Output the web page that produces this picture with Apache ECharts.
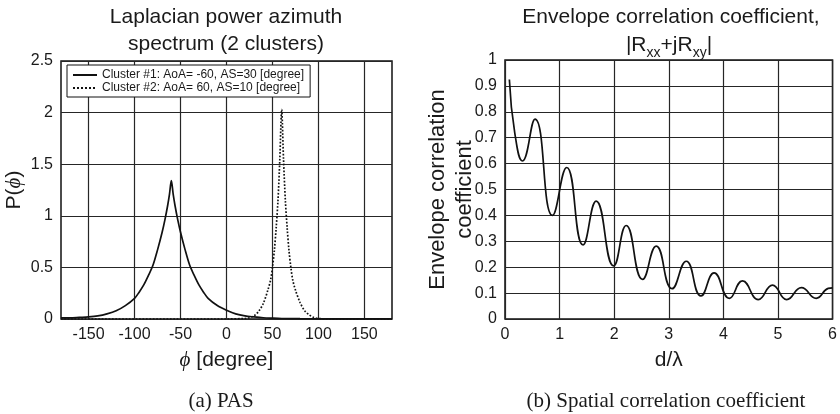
<!DOCTYPE html>
<html><head><meta charset="utf-8">
<script src="https://cdn.jsdelivr.net/npm/echarts@6/dist/echarts.min.js"></script>
<style>html,body{margin:0;padding:0;background:#fff}#c{width:840px;height:414px}</style>
</head><body><div id="c"></div>
<script>
// ---- (a) PAS data ----
const pasTicks = [-150, -100, -50, 0, 50, 100, 150];
const phiCluster1 = [-180,-170,-160,-150,-140,-130,-120,-110,-100,-95,-90,-85,-80,-75,-70,-67,-64,-62,-60,-58,-56,-53,-50,-45,-40,-35,-30,-25,-20,-10,0,10,20,30,40,50,60,80,100,120,140,160,180];
const pCluster1   = [0.01,0.01,0.015,0.02,0.03,0.05,0.08,0.13,0.20,0.26,0.33,0.42,0.52,0.67,0.84,0.96,1.10,1.21,1.34,1.21,1.10,0.96,0.84,0.67,0.52,0.42,0.33,0.26,0.20,0.13,0.085,0.05,0.03,0.02,0.012,0.008,0.005,0.003,0.002,0.001,0.001,0.001,0.001];
const phiCluster2 = [-180,0,20,25,30,35,40,45,48,50,52,54,56,58,60,62,64,66,68,70,72,75,80,85,90,95,100,110,180];
const pCluster2   = [0,0,0.005,0.012,0.03,0.075,0.15,0.28,0.38,0.50,0.66,0.88,1.15,1.55,2.03,1.55,1.15,0.88,0.66,0.50,0.38,0.28,0.16,0.08,0.04,0.015,0.005,0,0];
const legendNames = ['Cluster #1: AoA= -60, AS=30 [degree]', 'Cluster #2: AoA= 60, AS=10 [degree]'];

// ---- (b) spatial correlation data ----
const dOverLambda = [0.08,0.18,0.32,0.55,0.87,1.13,1.43,1.67,1.99,2.22,2.52,2.77,3.06,3.32,3.59,3.83,4.11,4.35,4.64,4.90,5.16,5.43,5.70,5.92,6.0];
const envCorr     = [0.925,0.717,0.61,0.772,0.40,0.585,0.286,0.455,0.205,0.361,0.153,0.281,0.117,0.223,0.089,0.178,0.08,0.147,0.075,0.131,0.075,0.121,0.08,0.118,0.12];

const FONT = "'Liberation Sans', Arial, Helvetica, sans-serif";
const SERIF = "'Liberation Serif', 'Times New Roman', serif";
const INK = '#1a1a1a';
const GRIDC = '#262626';

function zip(a, b) { return a.map((x, i) => [x, b[i]]); }

const chart = echarts.init(document.getElementById('c'), null, {renderer: 'canvas'});
const axisCommonY = {
  type: 'value', axisLine: {show: false}, axisTick: {show: false},
  axisLabel: {fontSize: 16, color: INK, margin: 8, fontFamily: FONT},
  splitLine: {show: true, lineStyle: {color: GRIDC, width: 1.2}},
  nameLocation: 'middle', nameRotate: 90, nameMoveOverlap: false
};
const option = {
  animation: false,
  backgroundColor: '#fff',
  textStyle: {fontFamily: FONT, color: INK},
  grid: [
    {left: 61, top: 61, width: 331, height: 258, show: true, borderColor: '#111', borderWidth: 1.5, backgroundColor: 'rgba(0,0,0,0)', containLabel: false},
    {left: 505, top: 60, width: 329, height: 259, show: true, borderColor: '#111', borderWidth: 1.5, backgroundColor: 'rgba(0,0,0,0)', containLabel: false}
  ],
  xAxis: [
    {gridIndex: 0, type: 'value', min: -180, max: 180, nameMoveOverlap: false,
     axisLine: {show: false}, axisTick: {show: false, customValues: pasTicks},
     axisLabel: {customValues: pasTicks, fontSize: 16, color: INK, margin: 8, fontFamily: FONT},
     splitLine: {show: true, lineStyle: {color: GRIDC, width: 1.2}},
     name: '{i|\u03d5} [degree]', nameLocation: 'middle', nameGap: 31,
     nameTextStyle: {fontSize: 21, color: INK, fontFamily: FONT, rich: {i: {fontSize: 21, fontStyle: 'italic', fontFamily: SERIF, color: INK}}}},
    {gridIndex: 1, type: 'value', min: 0, max: 6, interval: 1, nameMoveOverlap: false,
     axisLine: {show: false}, axisTick: {show: false},
     axisLabel: {fontSize: 16, color: INK, margin: 8, fontFamily: FONT},
     splitLine: {show: true, lineStyle: {color: GRIDC, width: 1.2}},
     name: 'd/\u03bb', nameLocation: 'middle', nameGap: 31,
     nameTextStyle: {fontSize: 21, color: INK, fontFamily: FONT}}
  ],
  yAxis: [
    Object.assign({}, axisCommonY, {gridIndex: 0, min: 0, max: 2.5, interval: 0.5,
      name: 'P({i|\u03d5})', nameGap: 36,
      nameTextStyle: {fontSize: 21, color: INK, fontFamily: FONT, rich: {i: {fontSize: 21, fontStyle: 'italic', fontFamily: SERIF, color: INK}}}}),
    Object.assign({}, axisCommonY, {gridIndex: 1, min: 0, max: 1, interval: 0.1,
      name: 'Envelope correlation\ncoefficient', nameGap: 27,
      nameTextStyle: {fontSize: 22, lineHeight: 27, color: INK, fontFamily: FONT}})
  ],
  legend: {
    left: 67, top: 65, orient: 'vertical', itemGap: 1, itemWidth: 24, itemHeight: 10,
    padding: [4, 6, 3, 5], backgroundColor: '#fff', borderColor: '#111', borderWidth: 1,
    textStyle: {fontSize: 12, color: INK, fontFamily: FONT},
    itemStyle: {color: 'rgba(0,0,0,0)', borderColor: 'rgba(0,0,0,0)', borderWidth: 0},
    data: legendNames
  },
  series: [
    {name: legendNames[0], type: 'line', xAxisIndex: 0, yAxisIndex: 0, data: zip(phiCluster1, pCluster1),
     showSymbol: false, symbol: 'none', smooth: 0.3, lineStyle: {color: '#111', width: 1.7, type: 'solid'},
     itemStyle: {color: '#111'}, z: 3},
    {name: legendNames[1], type: 'line', xAxisIndex: 0, yAxisIndex: 0, data: zip(phiCluster2, pCluster2),
     showSymbol: false, symbol: 'none', smooth: 0.3, lineStyle: {color: '#111', width: 1.7, type: 'dotted'},
     itemStyle: {color: '#111'}, z: 3},
    {name: 'corr', type: 'line', xAxisIndex: 1, yAxisIndex: 1, data: zip(dOverLambda, envCorr),
     showSymbol: false, symbol: 'none', smooth: 0.5, lineStyle: {color: '#111', width: 1.7},
     itemStyle: {color: '#111'}, z: 3}
  ],
  graphic: [
    {type: 'text', x: 226, y: 17.5, z: 10, style: {text: 'Laplacian power azimuth', font: '21px ' + FONT, fill: INK, align: 'center', verticalAlign: 'middle'}},
    {type: 'text', x: 226, y: 44.5, z: 10, style: {text: 'spectrum (2 clusters)', font: '21px ' + FONT, fill: INK, align: 'center', verticalAlign: 'middle'}},
    {type: 'text', x: 671, y: 17.5, z: 10, style: {text: 'Envelope correlation coefficient,', font: '21px ' + FONT, fill: INK, align: 'center', verticalAlign: 'middle'}},
    {type: 'text', x: 669, y: 35, z: 10, style: {
      text: '{m||R}{s|xx}{m|+jR}{s|xy}{m||}', align: 'center', verticalAlign: 'top', fill: INK,
      rich: {
        m: {fontSize: 21, lineHeight: 22, fontFamily: FONT, color: INK, verticalAlign: 'top'},
        s: {fontSize: 14, lineHeight: 14, fontFamily: FONT, color: INK, padding: [15, 0, 0, 0]}
      }}},
    {type: 'text', x: 221, y: 401, z: 10, style: {text: '(a) PAS', font: '21px ' + SERIF, fill: INK, align: 'center', verticalAlign: 'middle'}},
    {type: 'text', x: 666, y: 401, z: 10, style: {text: '(b) Spatial correlation coefficient', font: '21px ' + SERIF, fill: INK, align: 'center', verticalAlign: 'middle'}}
  ]
};
chart.setOption(option);
</script></body></html>
